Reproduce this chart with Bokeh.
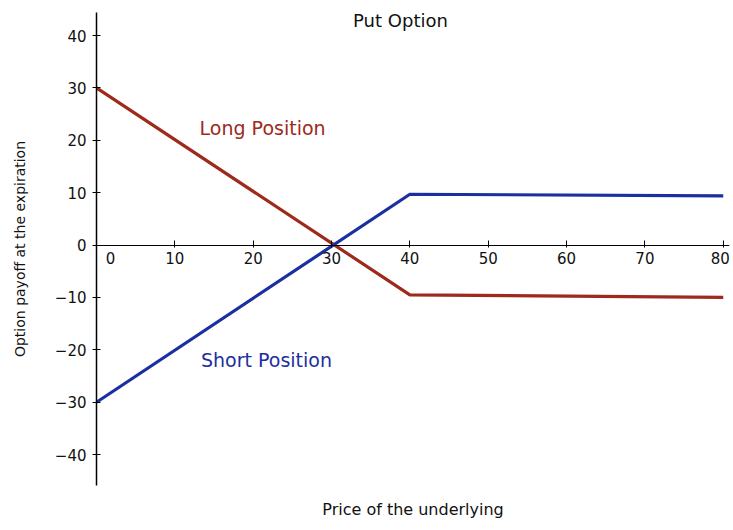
from bokeh.plotting import figure
from bokeh.models import LinearAxis, FixedTicker, Label, Title, Range1d
from bokeh.embed import file_html
from bokeh.resources import INLINE

# Data
price = [0, 40, 80]
long_payoff = [30, -9.5, -10.0]
short_payoff = [-30, 9.7, 9.4]
x_ticks = [10, 20, 30, 40, 50, 60, 70, 80]
y_ticks = [-40, -30, -20, -10, 0, 10, 20, 30, 40]

FONT = "DejaVu Sans"
RED = "#9e2a1c"
BLUE = "#1c2fa0"
TXT = "#111111"

p = figure(width=733, height=530, output_backend="svg", toolbar_location=None,
           x_range=Range1d(0, 80.8), y_range=Range1d(-45.9, 44.4),
           x_axis_location=None, min_border_left=96, min_border_right=4,
           min_border_top=12, min_border_bottom=44)
p.outline_line_color = None
p.grid.visible = False
p.background_fill_color = "white"

# y axis on left
yax = p.yaxis[0]
yax.ticker = FixedTicker(ticks=y_ticks)
yax.major_tick_in = 4
yax.major_tick_out = 4
yax.minor_tick_line_color = None
yax.axis_line_color = "black"
yax.axis_line_width = 1.5
yax.major_label_text_font = FONT
yax.major_label_text_font_size = "15px"
yax.major_label_text_color = TXT
yax.major_label_standoff = 6
yax.axis_label = "Option payoff at the expiration"
yax.axis_label_text_font = FONT
yax.axis_label_text_font_style = "normal"
yax.axis_label_text_font_size = "14px"
yax.axis_label_text_color = TXT
yax.axis_label_standoff = 24

# x axis crossing at y=0
xax = LinearAxis(fixed_location=0, ticker=FixedTicker(ticks=x_ticks))
xax.major_tick_in = 5
xax.major_tick_out = 2
xax.minor_tick_line_color = None
xax.axis_line_color = "black"
xax.major_label_text_font = FONT
xax.major_label_text_font_size = "15px"
xax.major_label_text_color = TXT
xax.major_label_standoff = 5
xax.major_label_overrides = {x_ticks[-1]: ""}
p.add_layout(xax, "below")

p.line(price, long_payoff, line_color=RED, line_width=3.2)
p.line(price, short_payoff, line_color=BLUE, line_width=3.2)

p.add_layout(Label(x=1.8, y=0, text="0", text_font=FONT, text_font_size="15px",
                   text_color=TXT, text_align="center", text_baseline="top", y_offset=-7))
p.add_layout(Label(x=x_ticks[-1], y=0, text=str(x_ticks[-1]), text_font=FONT, text_font_size="15px",
                   text_color=TXT, text_align="center", text_baseline="top", y_offset=-7, x_offset=-3))
p.add_layout(Label(x=38.8, y=42.9, text="Put Option", text_font=FONT, text_font_size="18px",
                   text_color=TXT, text_align="center", text_baseline="middle"))
p.add_layout(Label(x=21.2, y=22.3, text="Long Position", text_font=FONT, text_font_size="19px",
                   text_color=RED, text_align="center", text_baseline="middle"))
p.add_layout(Label(x=21.7, y=-21.9, text="Short Position", text_font=FONT, text_font_size="19px",
                   text_color=BLUE, text_align="center", text_baseline="middle"))

xt = Title(text="Price of the underlying", align="center", text_font=FONT,
           text_font_size="16px", text_font_style="normal", text_color=TXT, standoff=24)
p.add_layout(xt, "below")

open("out.html", "w").write(file_html(p, INLINE))
